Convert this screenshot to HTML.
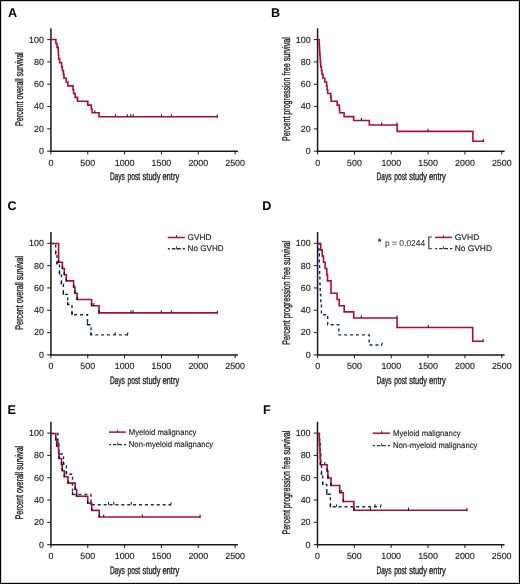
<!DOCTYPE html><html><head><meta charset="utf-8"><style>html,body{margin:0;padding:0;background:#fff;}svg{display:block;will-change:transform;}text{font-family:"Liberation Sans",sans-serif;text-rendering:geometricPrecision;}.w{stroke:#1a1a1a;stroke-width:0.12px;}</style></head><body>
<svg width="520" height="584" viewBox="0 0 520 584">
<rect x="0" y="0" width="520" height="584" fill="#fff"/>
<rect x="0.5" y="0.5" width="519" height="583" fill="none" stroke="#000" stroke-width="1"/>
<rect x="1.5" y="1.5" width="517" height="581" fill="none" stroke="#bbb" stroke-width="0.6"/>
<g><path d="M50.9 28.2V151.2H237.9" fill="none" stroke="#1a1a1a" stroke-width="1.5"/><path d="M47.2 151.2H50.9M47.2 128.88H50.9M47.2 106.56H50.9M47.2 84.24H50.9M47.2 61.92H50.9M47.2 39.6H50.9M50.9 151.2V154.5M87.74 151.2V154.5M124.58 151.2V154.5M161.42 151.2V154.5M198.26 151.2V154.5M235.1 151.2V154.5" fill="none" stroke="#1a1a1a" stroke-width="1"/><text x="43.9" y="154.1" font-size="8.9" text-anchor="end" fill="#1a1a1a" class="w">0</text><text x="43.9" y="131.78" font-size="8.9" text-anchor="end" fill="#1a1a1a" class="w">20</text><text x="43.9" y="109.46" font-size="8.9" text-anchor="end" fill="#1a1a1a" class="w">40</text><text x="43.9" y="87.14" font-size="8.9" text-anchor="end" fill="#1a1a1a" class="w">60</text><text x="43.9" y="64.82" font-size="8.9" text-anchor="end" fill="#1a1a1a" class="w">80</text><text x="43.9" y="42.5" font-size="8.9" text-anchor="end" fill="#1a1a1a" class="w">100</text><text x="50.9" y="165.65" font-size="8.9" text-anchor="middle" fill="#1a1a1a" class="w">0</text><text x="87.74" y="165.65" font-size="8.9" text-anchor="middle" fill="#1a1a1a" class="w">500</text><text x="124.58" y="165.65" font-size="8.9" text-anchor="middle" fill="#1a1a1a" class="w">1000</text><text x="161.42" y="165.65" font-size="8.9" text-anchor="middle" fill="#1a1a1a" class="w">1500</text><text x="198.26" y="165.65" font-size="8.9" text-anchor="middle" fill="#1a1a1a" class="w">2000</text><text x="235.1" y="165.65" font-size="8.9" text-anchor="middle" fill="#1a1a1a" class="w">2500</text><text x="109.9" y="180.2" font-size="11.0" fill="#1a1a1a" textLength="14.9" lengthAdjust="spacingAndGlyphs" stroke="#1a1a1a" stroke-width="0.35">Days</text><text x="127.6" y="180.2" font-size="11.0" fill="#1a1a1a" textLength="12.5" lengthAdjust="spacingAndGlyphs" stroke="#1a1a1a" stroke-width="0.35">post</text><text x="142.6" y="180.2" font-size="11.0" fill="#1a1a1a" textLength="17.8" lengthAdjust="spacingAndGlyphs" stroke="#1a1a1a" stroke-width="0.35">study</text><text x="162.4" y="180.2" font-size="11.0" fill="#1a1a1a" textLength="16.8" lengthAdjust="spacingAndGlyphs" stroke="#1a1a1a" stroke-width="0.35">entry</text><text transform="translate(22.9 89.2) rotate(-90)" x="-36.9" font-size="11.0" fill="#1a1a1a" textLength="73.8" lengthAdjust="spacingAndGlyphs" stroke="#1a1a1a" stroke-width="0.35">Percent overall survival</text><text x="8" y="17" font-size="12.6" font-weight="bold" fill="#000">A</text><path d="M50.9 39.5H55.9V43.55H57V47.4H58.2V51.25H58.4V55.1H58.6V58.94H59.7V62.79H61.6V66.64H62.3V70.49H63.4V74.33H64V78.18H66.2V82.03H67.9V85.88H73V89.73H73.6V93.57H75.2V97.42H77.5V101.27H87.8V105.12H91.3V108.97H92.1V112.82H99V116.8H217.2" fill="none" stroke="#ae0c33" stroke-width="1.6"/><path d="M94.8 110.22V112.82M115.5 114.2V116.8M127.3 114.2V116.8M130.8 114.2V116.8M133.3 114.2V116.8M161.5 114.2V116.8M171.4 114.2V116.8M217.2 114.6V117.8" fill="none" stroke="#222" stroke-width="1.1"/></g>
<g><path d="M317.6 28.2V151.2H504.6" fill="none" stroke="#1a1a1a" stroke-width="1.5"/><path d="M313.9 151.2H317.6M313.9 128.88H317.6M313.9 106.56H317.6M313.9 84.24H317.6M313.9 61.92H317.6M313.9 39.6H317.6M317.6 151.2V154.5M354.44 151.2V154.5M391.28 151.2V154.5M428.12 151.2V154.5M464.96 151.2V154.5M501.8 151.2V154.5" fill="none" stroke="#1a1a1a" stroke-width="1"/><text x="310.6" y="154.1" font-size="8.9" text-anchor="end" fill="#1a1a1a" class="w">0</text><text x="310.6" y="131.78" font-size="8.9" text-anchor="end" fill="#1a1a1a" class="w">20</text><text x="310.6" y="109.46" font-size="8.9" text-anchor="end" fill="#1a1a1a" class="w">40</text><text x="310.6" y="87.14" font-size="8.9" text-anchor="end" fill="#1a1a1a" class="w">60</text><text x="310.6" y="64.82" font-size="8.9" text-anchor="end" fill="#1a1a1a" class="w">80</text><text x="310.6" y="42.5" font-size="8.9" text-anchor="end" fill="#1a1a1a" class="w">100</text><text x="317.6" y="165.65" font-size="8.9" text-anchor="middle" fill="#1a1a1a" class="w">0</text><text x="354.44" y="165.65" font-size="8.9" text-anchor="middle" fill="#1a1a1a" class="w">500</text><text x="391.28" y="165.65" font-size="8.9" text-anchor="middle" fill="#1a1a1a" class="w">1000</text><text x="428.12" y="165.65" font-size="8.9" text-anchor="middle" fill="#1a1a1a" class="w">1500</text><text x="464.96" y="165.65" font-size="8.9" text-anchor="middle" fill="#1a1a1a" class="w">2000</text><text x="501.8" y="165.65" font-size="8.9" text-anchor="middle" fill="#1a1a1a" class="w">2500</text><text x="376.6" y="180.2" font-size="11.0" fill="#1a1a1a" textLength="14.9" lengthAdjust="spacingAndGlyphs" stroke="#1a1a1a" stroke-width="0.35">Days</text><text x="394.3" y="180.2" font-size="11.0" fill="#1a1a1a" textLength="12.5" lengthAdjust="spacingAndGlyphs" stroke="#1a1a1a" stroke-width="0.35">post</text><text x="409.3" y="180.2" font-size="11.0" fill="#1a1a1a" textLength="17.8" lengthAdjust="spacingAndGlyphs" stroke="#1a1a1a" stroke-width="0.35">study</text><text x="429.1" y="180.2" font-size="11.0" fill="#1a1a1a" textLength="16.8" lengthAdjust="spacingAndGlyphs" stroke="#1a1a1a" stroke-width="0.35">entry</text><text transform="translate(289.6 89.2) rotate(-90)" x="-51.9" font-size="11.0" fill="#1a1a1a" textLength="103.8" lengthAdjust="spacingAndGlyphs" stroke="#1a1a1a" stroke-width="0.35">Percent progression free survival</text><text x="271" y="17" font-size="12.6" font-weight="bold" fill="#000">B</text><path d="M317.6 39.5H319.1V43.55H319.35V47.4H319.6V51.25H319.85V55.1H320.1V58.94H320.4V62.79H320.7V66.64H321.4V70.49H321.9V74.33H323V78.18H324.8V82.03H326.6V85.88H327.1V89.73H327.7V93.57H330.8V97.42H331.1V101.27H337.2V105.12H339.3V108.97H339.6V112.82H344.1V116.67H353.7V120.52H369.3V125H397.1V131.4H472.9V141.3H483.3" fill="none" stroke="#ae0c33" stroke-width="1.6"/><path d="M361.4 117.92V120.52M381.7 122.4V125M397 122.4V125M427.9 128.8V131.4M483.3 139.1V142.3" fill="none" stroke="#222" stroke-width="1.1"/></g>
<g><path d="M50.9 231.9V354.9H237.9" fill="none" stroke="#1a1a1a" stroke-width="1.5"/><path d="M47.2 354.9H50.9M47.2 332.58H50.9M47.2 310.26H50.9M47.2 287.94H50.9M47.2 265.62H50.9M47.2 243.3H50.9M50.9 354.9V358.2M87.74 354.9V358.2M124.58 354.9V358.2M161.42 354.9V358.2M198.26 354.9V358.2M235.1 354.9V358.2" fill="none" stroke="#1a1a1a" stroke-width="1"/><text x="43.9" y="357.8" font-size="8.9" text-anchor="end" fill="#1a1a1a" class="w">0</text><text x="43.9" y="335.48" font-size="8.9" text-anchor="end" fill="#1a1a1a" class="w">20</text><text x="43.9" y="313.16" font-size="8.9" text-anchor="end" fill="#1a1a1a" class="w">40</text><text x="43.9" y="290.84" font-size="8.9" text-anchor="end" fill="#1a1a1a" class="w">60</text><text x="43.9" y="268.52" font-size="8.9" text-anchor="end" fill="#1a1a1a" class="w">80</text><text x="43.9" y="246.2" font-size="8.9" text-anchor="end" fill="#1a1a1a" class="w">100</text><text x="50.9" y="369.35" font-size="8.9" text-anchor="middle" fill="#1a1a1a" class="w">0</text><text x="87.74" y="369.35" font-size="8.9" text-anchor="middle" fill="#1a1a1a" class="w">500</text><text x="124.58" y="369.35" font-size="8.9" text-anchor="middle" fill="#1a1a1a" class="w">1000</text><text x="161.42" y="369.35" font-size="8.9" text-anchor="middle" fill="#1a1a1a" class="w">1500</text><text x="198.26" y="369.35" font-size="8.9" text-anchor="middle" fill="#1a1a1a" class="w">2000</text><text x="235.1" y="369.35" font-size="8.9" text-anchor="middle" fill="#1a1a1a" class="w">2500</text><text x="109.9" y="383.9" font-size="11.0" fill="#1a1a1a" textLength="14.9" lengthAdjust="spacingAndGlyphs" stroke="#1a1a1a" stroke-width="0.35">Days</text><text x="127.6" y="383.9" font-size="11.0" fill="#1a1a1a" textLength="12.5" lengthAdjust="spacingAndGlyphs" stroke="#1a1a1a" stroke-width="0.35">post</text><text x="142.6" y="383.9" font-size="11.0" fill="#1a1a1a" textLength="17.8" lengthAdjust="spacingAndGlyphs" stroke="#1a1a1a" stroke-width="0.35">study</text><text x="162.4" y="383.9" font-size="11.0" fill="#1a1a1a" textLength="16.8" lengthAdjust="spacingAndGlyphs" stroke="#1a1a1a" stroke-width="0.35">entry</text><text transform="translate(22.9 292.9) rotate(-90)" x="-36.9" font-size="11.0" fill="#1a1a1a" textLength="73.8" lengthAdjust="spacingAndGlyphs" stroke="#1a1a1a" stroke-width="0.35">Percent overall survival</text><text x="7.6" y="209.8" font-size="12.6" font-weight="bold" fill="#000">C</text><path d="M50.9 243.5H55.7V253.8H57V264H59.5V274.1H61.4V284.2H63.4V294.4H67.7V304.5H72V314.7H87.5V324.8H91V334.9H127.6" fill="none" stroke="#0e2d72" stroke-width="1.4" stroke-dasharray="3.0 2.9"/><path d="M115.2 332.3V334.9M127.1 335.5L128 332.5" fill="none" stroke="#222" stroke-width="1.1"/><path d="M55.7 251.2V254.2M57 261.4V264.4M59.5 271.5V274.5M61.4 281.6V284.6M63.4 291.8V294.8M67.7 301.9V304.9M72 312.1V315.1M87.5 322.2V325.2M91 332.3V335.3" fill="none" stroke="#111" stroke-width="1.3"/><path d="M50.9 243.5H58.6V262.3H62.4V268.5H64.3V274.7H66.3V280.9H73.6V287.1H74.9V293.3H77.1V299.5H91.6V305.7H99V312.85H217.3" fill="none" stroke="#ae0c33" stroke-width="1.6"/><path d="M93.8 303.1V305.7M131 310.25V312.85M133.1 310.25V312.85M161.3 310.25V312.85M171.4 310.25V312.85M217.3 310.65V313.85" fill="none" stroke="#222" stroke-width="1.1"/><path d="M58.6 259.7V262.7M62.4 265.9V268.9M64.3 272.1V275.1M66.3 278.3V281.3M73.6 284.5V287.5M74.9 290.7V293.7M77.1 296.9V299.9M91.6 303.1V306.1M99 310.25V313.25" fill="none" stroke="#111" stroke-width="1.3"/></g>
<g><path d="M317.6 231.9V354.9H504.6" fill="none" stroke="#1a1a1a" stroke-width="1.5"/><path d="M313.9 354.9H317.6M313.9 332.58H317.6M313.9 310.26H317.6M313.9 287.94H317.6M313.9 265.62H317.6M313.9 243.3H317.6M317.6 354.9V358.2M354.44 354.9V358.2M391.28 354.9V358.2M428.12 354.9V358.2M464.96 354.9V358.2M501.8 354.9V358.2" fill="none" stroke="#1a1a1a" stroke-width="1"/><text x="310.6" y="357.8" font-size="8.9" text-anchor="end" fill="#1a1a1a" class="w">0</text><text x="310.6" y="335.48" font-size="8.9" text-anchor="end" fill="#1a1a1a" class="w">20</text><text x="310.6" y="313.16" font-size="8.9" text-anchor="end" fill="#1a1a1a" class="w">40</text><text x="310.6" y="290.84" font-size="8.9" text-anchor="end" fill="#1a1a1a" class="w">60</text><text x="310.6" y="268.52" font-size="8.9" text-anchor="end" fill="#1a1a1a" class="w">80</text><text x="310.6" y="246.2" font-size="8.9" text-anchor="end" fill="#1a1a1a" class="w">100</text><text x="317.6" y="369.35" font-size="8.9" text-anchor="middle" fill="#1a1a1a" class="w">0</text><text x="354.44" y="369.35" font-size="8.9" text-anchor="middle" fill="#1a1a1a" class="w">500</text><text x="391.28" y="369.35" font-size="8.9" text-anchor="middle" fill="#1a1a1a" class="w">1000</text><text x="428.12" y="369.35" font-size="8.9" text-anchor="middle" fill="#1a1a1a" class="w">1500</text><text x="464.96" y="369.35" font-size="8.9" text-anchor="middle" fill="#1a1a1a" class="w">2000</text><text x="501.8" y="369.35" font-size="8.9" text-anchor="middle" fill="#1a1a1a" class="w">2500</text><text x="376.6" y="383.9" font-size="11.0" fill="#1a1a1a" textLength="14.9" lengthAdjust="spacingAndGlyphs" stroke="#1a1a1a" stroke-width="0.35">Days</text><text x="394.3" y="383.9" font-size="11.0" fill="#1a1a1a" textLength="12.5" lengthAdjust="spacingAndGlyphs" stroke="#1a1a1a" stroke-width="0.35">post</text><text x="409.3" y="383.9" font-size="11.0" fill="#1a1a1a" textLength="17.8" lengthAdjust="spacingAndGlyphs" stroke="#1a1a1a" stroke-width="0.35">study</text><text x="429.1" y="383.9" font-size="11.0" fill="#1a1a1a" textLength="16.8" lengthAdjust="spacingAndGlyphs" stroke="#1a1a1a" stroke-width="0.35">entry</text><text transform="translate(289.6 292.9) rotate(-90)" x="-51.9" font-size="11.0" fill="#1a1a1a" textLength="103.8" lengthAdjust="spacingAndGlyphs" stroke="#1a1a1a" stroke-width="0.35">Percent progression free survival</text><text x="262.2" y="210" font-size="12.6" font-weight="bold" fill="#000">D</text><path d="M317.6 243.5H319V253.8H319.3V264H319.6V274.1H319.9V284.2H320.2V294.4H320.8V304.5H321.4V314.7H327.7V324.8H338.8V334.9H369.2V345H382" fill="none" stroke="#0e2d72" stroke-width="1.4" stroke-dasharray="3.0 2.9"/><path d="M381.5 345.6L382.4 342.6" fill="none" stroke="#222" stroke-width="1.1"/><path d="M317.6 243.5H320.7V249.9H322.2V256.1H323.5V262.3H325.1V268.5H326.8V274.7H327.5V280.9H331V293.3H337.1V299.5H339.2V305.7H344.2V311.9H353.7V318H397.1V327.5H472.7V341.2H483.1" fill="none" stroke="#ae0c33" stroke-width="1.6"/><path d="M361.4 315.4V318M397 315.4V318M428.3 324.9V327.5M483.1 339V342.2" fill="none" stroke="#222" stroke-width="1.1"/></g>
<g><path d="M50.9 421.7V544.7H237.9" fill="none" stroke="#1a1a1a" stroke-width="1.5"/><path d="M47.2 544.7H50.9M47.2 522.38H50.9M47.2 500.06H50.9M47.2 477.74H50.9M47.2 455.42H50.9M47.2 433.1H50.9M50.9 544.7V548M87.74 544.7V548M124.58 544.7V548M161.42 544.7V548M198.26 544.7V548M235.1 544.7V548" fill="none" stroke="#1a1a1a" stroke-width="1"/><text x="43.9" y="547.6" font-size="8.9" text-anchor="end" fill="#1a1a1a" class="w">0</text><text x="43.9" y="525.28" font-size="8.9" text-anchor="end" fill="#1a1a1a" class="w">20</text><text x="43.9" y="502.96" font-size="8.9" text-anchor="end" fill="#1a1a1a" class="w">40</text><text x="43.9" y="480.64" font-size="8.9" text-anchor="end" fill="#1a1a1a" class="w">60</text><text x="43.9" y="458.32" font-size="8.9" text-anchor="end" fill="#1a1a1a" class="w">80</text><text x="43.9" y="436" font-size="8.9" text-anchor="end" fill="#1a1a1a" class="w">100</text><text x="50.9" y="559.15" font-size="8.9" text-anchor="middle" fill="#1a1a1a" class="w">0</text><text x="87.74" y="559.15" font-size="8.9" text-anchor="middle" fill="#1a1a1a" class="w">500</text><text x="124.58" y="559.15" font-size="8.9" text-anchor="middle" fill="#1a1a1a" class="w">1000</text><text x="161.42" y="559.15" font-size="8.9" text-anchor="middle" fill="#1a1a1a" class="w">1500</text><text x="198.26" y="559.15" font-size="8.9" text-anchor="middle" fill="#1a1a1a" class="w">2000</text><text x="235.1" y="559.15" font-size="8.9" text-anchor="middle" fill="#1a1a1a" class="w">2500</text><text x="109.9" y="573.7" font-size="11.0" fill="#1a1a1a" textLength="14.9" lengthAdjust="spacingAndGlyphs" stroke="#1a1a1a" stroke-width="0.35">Days</text><text x="127.6" y="573.7" font-size="11.0" fill="#1a1a1a" textLength="12.5" lengthAdjust="spacingAndGlyphs" stroke="#1a1a1a" stroke-width="0.35">post</text><text x="142.6" y="573.7" font-size="11.0" fill="#1a1a1a" textLength="17.8" lengthAdjust="spacingAndGlyphs" stroke="#1a1a1a" stroke-width="0.35">study</text><text x="162.4" y="573.7" font-size="11.0" fill="#1a1a1a" textLength="16.8" lengthAdjust="spacingAndGlyphs" stroke="#1a1a1a" stroke-width="0.35">entry</text><text transform="translate(22.9 482.7) rotate(-90)" x="-36.9" font-size="11.0" fill="#1a1a1a" textLength="73.8" lengthAdjust="spacingAndGlyphs" stroke="#1a1a1a" stroke-width="0.35">Percent overall survival</text><text x="7.6" y="413.9" font-size="12.6" font-weight="bold" fill="#000">E</text><path d="M50.9 433.5H57.9V443.8H58.8V454H63.5V464.1H66.4V474.2H72.5V494.5H91V504.7H170.9" fill="none" stroke="#0e2d72" stroke-width="1.4" stroke-dasharray="3.0 2.9"/><path d="M108.5 502.1V504.7M113.8 502.1V504.7M131.3 502.1V504.7M170.4 505.3L171.3 502.3" fill="none" stroke="#222" stroke-width="1.1"/><path d="M57.9 441.2V444.2M58.8 451.4V454.4M63.5 461.5V464.5M66.4 471.6V474.6M72.5 491.9V494.9M91 502.1V505.1" fill="none" stroke="#111" stroke-width="1.3"/><path d="M50.9 433.5H55.8V439.9H56.7V446.1H58.6V452.3H59V458.5H61.5V464.7H62.2V470.7H64.3V476.8H68V483.1H75.2V489.5H76.6V496.2H87.7V503.3H91.7V510.4H99.2V517H200.1" fill="none" stroke="#ae0c33" stroke-width="1.6"/><path d="M103.7 514.4V517M142.3 514.4V517M200.1 514.8V518" fill="none" stroke="#222" stroke-width="1.1"/><path d="M55.8 437.3V440.3M56.7 443.5V446.5M59 455.9V458.9M61.5 462.1V465.1M62.2 468.1V471.1M64.3 474.2V477.2M68 480.5V483.5M75.2 486.9V489.9M76.6 493.6V496.6M87.7 500.7V503.7M91.7 507.8V510.8M99.2 514.4V517.4" fill="none" stroke="#111" stroke-width="1.3"/></g>
<g><path d="M317.5 421.7V544.7H504.5" fill="none" stroke="#1a1a1a" stroke-width="1.5"/><path d="M313.8 544.7H317.5M313.8 522.38H317.5M313.8 500.06H317.5M313.8 477.74H317.5M313.8 455.42H317.5M313.8 433.1H317.5M317.5 544.7V548M354.34 544.7V548M391.18 544.7V548M428.02 544.7V548M464.86 544.7V548M501.7 544.7V548" fill="none" stroke="#1a1a1a" stroke-width="1"/><text x="310.5" y="547.6" font-size="8.9" text-anchor="end" fill="#1a1a1a" class="w">0</text><text x="310.5" y="525.28" font-size="8.9" text-anchor="end" fill="#1a1a1a" class="w">20</text><text x="310.5" y="502.96" font-size="8.9" text-anchor="end" fill="#1a1a1a" class="w">40</text><text x="310.5" y="480.64" font-size="8.9" text-anchor="end" fill="#1a1a1a" class="w">60</text><text x="310.5" y="458.32" font-size="8.9" text-anchor="end" fill="#1a1a1a" class="w">80</text><text x="310.5" y="436" font-size="8.9" text-anchor="end" fill="#1a1a1a" class="w">100</text><text x="317.5" y="559.15" font-size="8.9" text-anchor="middle" fill="#1a1a1a" class="w">0</text><text x="354.34" y="559.15" font-size="8.9" text-anchor="middle" fill="#1a1a1a" class="w">500</text><text x="391.18" y="559.15" font-size="8.9" text-anchor="middle" fill="#1a1a1a" class="w">1000</text><text x="428.02" y="559.15" font-size="8.9" text-anchor="middle" fill="#1a1a1a" class="w">1500</text><text x="464.86" y="559.15" font-size="8.9" text-anchor="middle" fill="#1a1a1a" class="w">2000</text><text x="501.7" y="559.15" font-size="8.9" text-anchor="middle" fill="#1a1a1a" class="w">2500</text><text x="376.5" y="573.7" font-size="11.0" fill="#1a1a1a" textLength="14.9" lengthAdjust="spacingAndGlyphs" stroke="#1a1a1a" stroke-width="0.35">Days</text><text x="394.2" y="573.7" font-size="11.0" fill="#1a1a1a" textLength="12.5" lengthAdjust="spacingAndGlyphs" stroke="#1a1a1a" stroke-width="0.35">post</text><text x="409.2" y="573.7" font-size="11.0" fill="#1a1a1a" textLength="17.8" lengthAdjust="spacingAndGlyphs" stroke="#1a1a1a" stroke-width="0.35">study</text><text x="429" y="573.7" font-size="11.0" fill="#1a1a1a" textLength="16.8" lengthAdjust="spacingAndGlyphs" stroke="#1a1a1a" stroke-width="0.35">entry</text><text transform="translate(289.5 482.7) rotate(-90)" x="-51.9" font-size="11.0" fill="#1a1a1a" textLength="103.8" lengthAdjust="spacingAndGlyphs" stroke="#1a1a1a" stroke-width="0.35">Percent progression free survival</text><text x="263" y="414.3" font-size="12.6" font-weight="bold" fill="#000">F</text><path d="M317.5 433.5H319.5V443.8H320.2V454H320.8V464.2H321.5V474.5H322.7V484.5H326.8V494.3H330.4V506.8H380.8" fill="none" stroke="#0e2d72" stroke-width="1.4" stroke-dasharray="3.0 2.9"/><path d="M336.4 504.2V506.8M375 504.2V506.8M380.3 507.4L381.2 504.4" fill="none" stroke="#222" stroke-width="1.1"/><path d="M321.5 471.9V474.9M322.7 481.9V484.9M326.8 491.7V494.7M330.4 504.2V507.2" fill="none" stroke="#111" stroke-width="1.3"/><path d="M317.5 433.5H319.3V439.9H319.6V446.1H319.9V452.3H320.1V458.5H320.4V464.7H327.1V471.1H327.9V478H331V485.5H339.7V492.7H343.3V501.5H353.9V510.2H467" fill="none" stroke="#ae0c33" stroke-width="1.6"/><path d="M324.8 462.1V464.7M341.7 490.1V492.7M370.4 507.6V510.2M408.5 507.6V510.2M467 508V511.2" fill="none" stroke="#222" stroke-width="1.1"/><path d="M320.4 462.1V465.1M327.1 468.5V471.5M327.9 475.4V478.4M331 482.9V485.9M339.7 490.1V493.1M343.3 498.9V501.9M353.9 507.6V510.6" fill="none" stroke="#111" stroke-width="1.3"/></g>
<g><path d="M167.8 237.5H184.8" stroke="#ae0c33" stroke-width="1.5" fill="none"/><path d="M167.9 248.8H169.8M171.9 248.8H175.4M176.6 248.8H180.8M182.7 248.8H184.9" stroke="#0e2d72" stroke-width="1.4" fill="none"/><path d="M176.5 235V237.5M176.5 246.3V248.8" stroke="#333" stroke-width="0.9" fill="none"/><text x="187.6" y="239.95" font-size="8.2" fill="#1a1a1a" textLength="23.8" lengthAdjust="spacingAndGlyphs" class="w">GVHD</text><text x="187.6" y="251.25" font-size="8.2" fill="#1a1a1a" textLength="36" lengthAdjust="spacingAndGlyphs" class="w">No GVHD</text><path d="M435.1 237.4H451.9" stroke="#ae0c33" stroke-width="1.5" fill="none"/><path d="M435.2 248.6H437.1M439.2 248.6H442.7M443.9 248.6H448.1M450 248.6H452.2" stroke="#0e2d72" stroke-width="1.4" fill="none"/><path d="M443.6 234.9V237.4M443.6 246.1V248.6" stroke="#333" stroke-width="0.9" fill="none"/><text x="454.7" y="239.85" font-size="8.2" fill="#1a1a1a" textLength="24.63" lengthAdjust="spacingAndGlyphs" class="w">GVHD</text><text x="454.7" y="251.05" font-size="8.2" fill="#1a1a1a" textLength="37.26" lengthAdjust="spacingAndGlyphs" class="w">No GVHD</text><path d="M109 432.1H125.8" stroke="#ae0c33" stroke-width="1.5" fill="none"/><path d="M109.1 444.6H111M113.1 444.6H116.6M117.8 444.6H122M123.9 444.6H126.1" stroke="#0e2d72" stroke-width="1.4" fill="none"/><path d="M117.7 429.6V432.1M117.7 442.1V444.6" stroke="#333" stroke-width="0.9" fill="none"/><text x="128.8" y="434.55" font-size="8.2" fill="#1a1a1a" textLength="67.6" lengthAdjust="spacingAndGlyphs" class="w">Myeloid malignancy</text><text x="128.8" y="447.05" font-size="8.2" fill="#1a1a1a" textLength="84.4" lengthAdjust="spacingAndGlyphs" class="w">Non-myeloid malignancy</text><path d="M372.8 433.2H389.9" stroke="#ae0c33" stroke-width="1.5" fill="none"/><path d="M372.9 445.6H374.8M376.9 445.6H380.4M381.6 445.6H385.8M387.7 445.6H389.9" stroke="#0e2d72" stroke-width="1.4" fill="none"/><path d="M381.6 430.7V433.2M381.6 443.1V445.6" stroke="#333" stroke-width="0.9" fill="none"/><text x="393" y="435.65" font-size="8.2" fill="#1a1a1a" textLength="67.6" lengthAdjust="spacingAndGlyphs" class="w">Myeloid malignancy</text><text x="393" y="448.05" font-size="8.2" fill="#1a1a1a" textLength="84.4" lengthAdjust="spacingAndGlyphs" class="w">Non-myeloid malignancy</text><text x="377.7" y="245.2" font-size="9.5" font-weight="bold" fill="#1a1a1a">*</text><text x="384.9" y="246.2" font-size="8.6" fill="#1a1a1a" textLength="40.4" lengthAdjust="spacingAndGlyphs">p = 0.0244</text><path d="M431.9 237H428.8V248.7H431.9" stroke="#333" stroke-width="1.1" fill="none"/></g>
</svg></body></html>
